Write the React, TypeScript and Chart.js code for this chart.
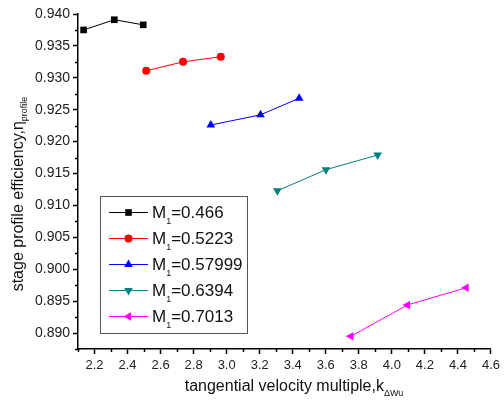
import React, { useEffect, useRef } from "react";
import { Chart, registerables } from "chart.js";
import { drawPoint } from "chart.js/helpers";

Chart.register(...registerables);

const seriesNames = ["0.466", "0.5223", "0.57999", "0.6394", "0.7013"];
const seriesColors = ["#000000", "#ff0000", "#0000ff", "#008080", "#ff00ff"];
const seriesStyles = ["rect", "circle", "triangle", "triangle", "triangle"];
const seriesRotations = [0, 0, 0, 180, -90];
const seriesRadii = [4.7, 4, 5, 5, 5];

const kM466 = [2.134, 2.32, 2.495];
const etaM466 = [0.9375, 0.9391, 0.9383];
const kM5223 = [2.513, 2.736, 2.964];
const etaM5223 = [0.9311, 0.9325, 0.9333];
const kM57999 = [2.904, 3.205, 3.439];
const etaM57999 = [0.9226, 0.9242, 0.9268];
const kM6394 = [3.307, 3.601, 3.914];
const etaM6394 = [0.9123, 0.9156, 0.9179];
const kM7013 = [3.752, 4.095, 4.45];
const etaM7013 = [0.8895, 0.8944, 0.8971];

const xTicks = [2.2, 2.4, 2.6, 2.8, 3.0, 3.2, 3.4, 3.6, 3.8, 4.0, 4.2, 4.4, 4.6];
const xMinorTicks = [2.1, 2.3, 2.5, 2.7, 2.9, 3.1, 3.3, 3.5, 3.7, 3.9, 4.1, 4.3, 4.5];
const yTicks = [0.89, 0.895, 0.9, 0.905, 0.91, 0.915, 0.92, 0.925, 0.93, 0.935, 0.94];
const yMinorTicks = [0.8875, 0.8925, 0.8975, 0.9025, 0.9075, 0.9125, 0.9175, 0.9225, 0.9275, 0.9325, 0.9375];

const FONT = "'Liberation Sans', Arial, sans-serif";

const allK = [kM466, kM5223, kM57999, kM6394, kM7013];
const allEta = [etaM466, etaM5223, etaM57999, etaM6394, etaM7013];

function drawSubText(ctx: CanvasRenderingContext2D, x: number, y: number, main: string, sub: string, rest: string, size: number, subSize: number, subDrop: number) {
  ctx.font = `${size}px ${FONT}`;
  ctx.fillText(main, x, y);
  let cx = x + ctx.measureText(main).width;
  ctx.font = `${subSize}px ${FONT}`;
  ctx.fillText(sub, cx, y + subDrop);
  cx += ctx.measureText(sub).width;
  if (rest) {
    ctx.font = `${size}px ${FONT}`;
    ctx.fillText(rest, cx, y);
  }
}

function measureSub(ctx: CanvasRenderingContext2D, main: string, sub: string, size: number, subSize: number) {
  ctx.font = `${size}px ${FONT}`;
  const a = ctx.measureText(main).width;
  ctx.font = `${subSize}px ${FONT}`;
  return a + ctx.measureText(sub).width;
}

const decorPlugin = {
  id: "decor",
  afterDraw(chart: any) {
    const ctx: CanvasRenderingContext2D = chart.ctx;
    const xs = chart.scales.x;
    const ys = chart.scales.y;
    const area = chart.chartArea;
    ctx.save();
    // minor ticks
    ctx.strokeStyle = "#000";
    ctx.lineWidth = 1.5;
    ctx.beginPath();
    xMinorTicks.forEach((v) => {
      const px = Math.round(xs.getPixelForValue(v)) + 0.5;
      ctx.moveTo(px, area.bottom);
      ctx.lineTo(px, area.bottom + 3);
    });
    yMinorTicks.forEach((v) => {
      const py = Math.round(ys.getPixelForValue(v)) + 0.5;
      ctx.moveTo(area.left, py);
      ctx.lineTo(area.left - 3, py);
    });
    ctx.stroke();

    // legend
    const bx = 100, by = 196, bw = 147, bh = 137;
    ctx.fillStyle = "#fff";
    ctx.fillRect(bx, by, bw, bh);
    ctx.strokeStyle = "#555";
    ctx.lineWidth = 1;
    ctx.strokeRect(bx + 0.5, by + 0.5, bw, bh);
    seriesNames.forEach((name, i) => {
      const cy = 212 + i * 26;
      const color = seriesColors[i];
      ctx.strokeStyle = color;
      ctx.lineWidth = 1;
      ctx.beginPath();
      ctx.moveTo(109, cy + 0.5);
      ctx.lineTo(148, cy + 0.5);
      ctx.stroke();
      ctx.fillStyle = color;
      drawPoint(ctx, { pointStyle: seriesStyles[i], rotation: seriesRotations[i], radius: seriesRadii[i], borderWidth: 0 } as any, 128.5, cy + 0.5);
      ctx.fillStyle = "#111";
      ctx.textBaseline = "alphabetic";
      ctx.textAlign = "left";
      drawSubText(ctx, 152, cy + 6, "M", "1", "=" + name, 17, 9, 6);
    });

    // x title
    ctx.fillStyle = "#111";
    ctx.textBaseline = "alphabetic";
    ctx.textAlign = "left";
    const xMain = "tangential velocity multiple,k";
    const xw = measureSub(ctx, xMain, "\u0394Wu", 16, 9);
    drawSubText(ctx, 294 - xw / 2, 391, xMain, "\u0394Wu", "", 16, 9, 5);

    // y title
    ctx.save();
    ctx.translate(23, 194);
    ctx.rotate(-Math.PI / 2);
    const yMain = "stage profile efficiency,\u03b7";
    const yw = measureSub(ctx, yMain, "profile", 16, 9);
    drawSubText(ctx, -yw / 2, 0, yMain, "profile", "", 16, 9, 4);
    ctx.restore();

    ctx.restore();
  },
};

export default function App() {
  const ref = useRef<HTMLCanvasElement | null>(null);
  useEffect(() => {
    document.body.style.margin = "0";
    const canvas = ref.current;
    if (!canvas) return;
    const datasets = seriesNames.map((name, i) => ({
      label: "M1=" + name,
      data: allK[i].map((k, j) => ({ x: k, y: allEta[i][j] })),
      borderColor: seriesColors[i],
      backgroundColor: seriesColors[i],
      borderWidth: 1,
      pointStyle: seriesStyles[i],
      rotation: seriesRotations[i],
      pointRadius: seriesRadii[i],
      pointBorderWidth: 0,
      pointBackgroundColor: seriesColors[i],
      tension: 0,
      clip: false as any,
    }));
    const chart = new Chart(canvas, {
      type: "line",
      data: { datasets },
      plugins: [decorPlugin],
      options: {
        animation: false,
        responsive: false,
        maintainAspectRatio: false,
        layout: { padding: { top: 14, right: 10, left: 0, bottom: 0 } },
        plugins: { legend: { display: false }, tooltip: { enabled: false }, title: { display: false } },
        scales: {
          x: {
            type: "linear",
            min: 2.1,
            max: 4.6,
            afterBuildTicks: (s: any) => {
              s.ticks = xTicks.map((v) => ({ value: v }));
            },
            afterFit: (s: any) => {
              s.height = 53;
            },
            grid: { display: true, drawOnChartArea: false, drawTicks: true, tickLength: 5, tickColor: "#000", tickWidth: 1.5 },
            border: { display: true, color: "#000", width: 1.5 },
            ticks: {
              font: { family: FONT, size: 13 },
              color: "#222",
              padding: 4,
              maxRotation: 0,
              autoSkip: false,
              callback: (v: any) => Number(v).toFixed(1),
            },
          },
          y: {
            type: "linear",
            min: 0.8875,
            max: 0.94,
            afterBuildTicks: (s: any) => {
              s.ticks = yTicks.map((v) => ({ value: v }));
            },
            afterFit: (s: any) => {
              s.width = 78;
            },
            grid: { display: true, drawOnChartArea: false, drawTicks: true, tickLength: 5, tickColor: "#000", tickWidth: 1.5 },
            border: { display: true, color: "#000", width: 1.5 },
            ticks: {
              font: { family: FONT, size: 14 },
              color: "#222",
              padding: 3,
              autoSkip: false,
              callback: (v: any) => Number(v).toFixed(3),
            },
          },
        },
      } as any,
    });
    return () => chart.destroy();
  }, []);
  return (
    <div style={{ width: 504, height: 402, background: "#fff" }}>
      <canvas ref={ref} width={504} height={402} style={{ display: "block" }} />
    </div>
  );
}
